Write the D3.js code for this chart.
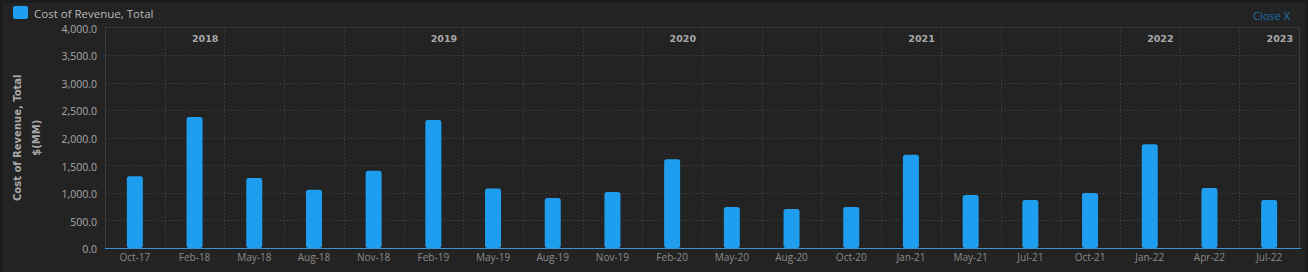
<!DOCTYPE html>
<html>
<head>
<meta charset="utf-8">
<script src="https://cdn.jsdelivr.net/npm/d3@7"></script>
<style>
  html, body { margin: 0; padding: 0; background: #1b1b1b; }
  svg { display: block; font-family: "Open Sans", "Noto Sans", sans-serif; }
  .axis path, .axis line { display: none; }
</style>
</head>
<body>
<div id="chart"></div>
<script>
const categories = ["Oct-17", "Feb-18", "May-18", "Aug-18", "Nov-18", "Feb-19", "May-19", "Aug-19",
  "Nov-19", "Feb-20", "May-20", "Aug-20", "Oct-20", "Jan-21", "May-21", "Jul-21", "Oct-21",
  "Jan-22", "Apr-22", "Jul-22"];
const costOfRevenue = [1300, 2375, 1268, 1056, 1400, 2324, 1080, 905, 1015, 1612, 743, 706, 743,
  1690, 960, 870, 996, 1884, 1087, 870];
const years = ["2018", "2019", "2020", "2021", "2022", "2023"];
const yearAnchors = ["Feb-18", "Feb-19", "Feb-20", "Jan-21", "Jan-22", "Jul-22"];
const yTicks = [0, 500, 1000, 1500, 2000, 2500, 3000, 3500, 4000];

let w = 1308;
let h = 272;
let marginTop = 27.5;
let marginRight = 9;
let marginBottom = 24;
let marginLeft = 105;
let barColor = "#1f9ef0";

let svg = d3.select("#chart").append("svg").attr("width", w).attr("height", h);

// panel background
svg.append("rect").attr("width", w).attr("height", h).attr("fill", "#1b1b1b");
svg.append("rect").attr("x", 3).attr("y", 3).attr("width", w - 5).attr("height", h - 3).attr("fill", "#232323");

let x = d3.scaleBand().domain(categories).range([marginLeft, w - marginRight]).paddingInner(0).paddingOuter(0);
let y = d3.scaleLinear().domain([0, 4000]).range([h - marginBottom, marginTop]);

// legend
svg.append("rect").attr("x", 13).attr("y", 6).attr("width", 15).attr("height", 13).attr("rx", 2).attr("fill", barColor);
svg.append("text").attr("x", 34).attr("y", 17.5).attr("fill", "#b8b8b8").attr("font-size", 11.5)
  .text("Cost of Revenue, Total");
svg.append("text").attr("x", 1290).attr("y", 20).attr("text-anchor", "end").attr("fill", "#1c6fb0")
  .attr("font-size", 11).text("Close X");

// plot frame
svg.append("line").attr("x1", marginLeft).attr("x2", w - marginRight).attr("y1", marginTop).attr("y2", marginTop)
  .attr("stroke", "#363636");
svg.append("line").attr("x1", marginLeft + 0.5).attr("x2", marginLeft + 0.5).attr("y1", marginTop).attr("y2", y(0))
  .attr("stroke", "#3c3c3c");
svg.append("line").attr("x1", w - marginRight + 0.5).attr("x2", w - marginRight + 0.5).attr("y1", marginTop).attr("y2", y(0))
  .attr("stroke", "#3c3c3c");

// grid
svg.append("g").selectAll("line").data(yTicks.slice(1, -1)).enter().append("line")
  .attr("x1", marginLeft).attr("x2", w - marginRight)
  .attr("y1", function (d) { return Math.round(y(d)) + 0.5; })
  .attr("y2", function (d) { return Math.round(y(d)) + 0.5; })
  .attr("stroke", "#404040").attr("stroke-dasharray", "1.5,2");
svg.append("g").selectAll("line").data(categories.slice(1)).enter().append("line")
  .attr("x1", function (d) { return Math.round(x(d)) + 0.5; })
  .attr("x2", function (d) { return Math.round(x(d)) + 0.5; })
  .attr("y1", marginTop).attr("y2", y(0))
  .attr("stroke", "#404040").attr("stroke-dasharray", "1.5,2");

// year labels
svg.append("g").selectAll("text").data(years).enter().append("text")
  .attr("x", function (d, i) { return x(yearAnchors[i]) + x.bandwidth() - 6; })
  .attr("y", 42).attr("text-anchor", "end").attr("fill", "#a9a9a9")
  .attr("font-family", "'DejaVu Sans', sans-serif").attr("font-weight", "bold").attr("font-size", 9.5)
  .text(function (d) { return d; });

// axes
let yAxis = d3.axisLeft(y).tickValues(yTicks).tickFormat(d3.format(",.1f")).tickSize(0).tickPadding(8);
svg.append("g").attr("class", "axis").attr("transform", `translate(${marginLeft},0)`).call(yAxis)
  .selectAll("text").attr("fill", "#a9a9a9").attr("font-size", 10.5).attr("font-family", "'Open Sans', sans-serif")
  .attr("dy", "0.45em");

let xAxis = d3.axisBottom(x).tickSize(0).tickPadding(6);
svg.append("g").attr("class", "axis").attr("transform", `translate(0,${y(0)})`).call(xAxis)
  .selectAll("text").attr("fill", "#8a8a8a").attr("font-size", 10).attr("font-family", "'Open Sans', sans-serif");

// axis title
let title = svg.append("text").attr("transform", `translate(21,${(marginTop + y(0)) / 2}) rotate(-90)`)
  .attr("text-anchor", "middle").attr("fill", "#a9a9a9").attr("font-weight", "bold").attr("font-size", 10)
  .attr("font-family", "'DejaVu Sans', sans-serif");
title.append("tspan").attr("x", 0).attr("dy", 0).text("Cost of Revenue, Total");
title.append("tspan").attr("x", 0).attr("dy", 19).text("$(MM)");

// bars
svg.append("g").selectAll("path").data(costOfRevenue).enter().append("path")
  .attr("fill", barColor)
  .attr("d", function (d, i) {
    let bw = 16, r = 2.5;
    let cx = x(categories[i]) + x.bandwidth() / 2;
    let x0 = cx - bw / 2, x1 = cx + bw / 2, y0 = y(0), y1 = y(d);
    return `M${x0},${y0 - r} L${x0},${y1 + r} Q${x0},${y1} ${x0 + r},${y1} L${x1 - r},${y1} Q${x1},${y1} ${x1},${y1 + r}` +
      ` L${x1},${y0 - r} Q${x1},${y0} ${x1 - r},${y0} L${x0 + r},${y0} Q${x0},${y0} ${x0},${y0 - r}Z`;
  });

// baseline
svg.append("line").attr("x1", marginLeft).attr("x2", w - marginRight + 2).attr("y1", y(0) + 0.5).attr("y2", y(0) + 0.5)
  .attr("stroke", "#3793d6").attr("stroke-width", 1.2);
</script>
</body>
</html>
